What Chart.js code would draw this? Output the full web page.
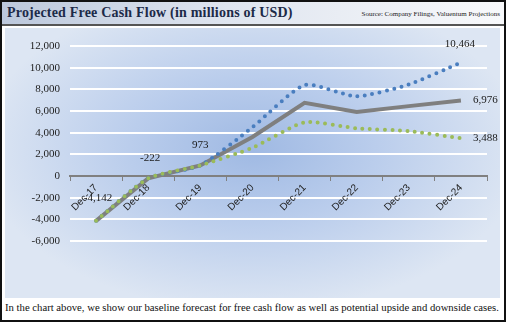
<!DOCTYPE html>
<html>
<head>
<meta charset="utf-8">
<script src="https://cdn.jsdelivr.net/npm/chart.js@4.4.0/dist/chart.umd.min.js"></script>
<style>
  body { margin: 0; background: #fff; }
  #frame {
    position: relative; width: 502px; height: 318px;
    border: 2px solid #111; background: #fff; overflow: hidden;
  }
  #titlebar {
    position: absolute; left: 0; top: 0; width: 502px; height: 22px;
    background: linear-gradient(to right, #bcc8dc 0%, #dfe5ef 45%, #f8f9fb 100%);
    border-bottom: 2px solid #555;
  }
  #title {
    position: absolute; left: 5px; top: 3px;
    font: bold 14px "Liberation Serif", serif; color: #1c2a48; letter-spacing: 0.2px;
  }
  #source {
    position: absolute; right: 4px; top: 8px;
    font: 7px "Liberation Serif", serif; color: #222;
  }
  #plot {
    position: absolute; left: 3px; top: 26px; width: 495px; height: 270px;
    background: radial-gradient(ellipse 55% 60% at 50% 45%, #9fb9e3 0%, #bacdec 45%, #dde6f3 100%);
  }
  #plot canvas { position: absolute; left: 0; top: 0; }
  #caption {
    position: absolute; left: 3px; top: 299px;
    font: 10.7px "Liberation Serif", serif; color: #111; white-space: nowrap;
  }
</style>
</head>
<body>
<div id="frame">
  <div id="titlebar">
    <div id="title">Projected Free Cash Flow (in millions of USD)</div>
    <div id="source">Source: Company Filings, Valuentum Projections</div>
  </div>
  <div id="plot"><canvas id="myChart" width="495" height="270"></canvas></div>
  <div id="caption">In the chart above, we show our baseline forecast for free cash flow as well as potential upside and downside cases.</div>
</div>
<script>
const categories = ['Dec-17', 'Dec-18', 'Dec-19', 'Dec-20', 'Dec-21', 'Dec-22', 'Dec-23', 'Dec-24'];
const baseCase = [-4142, -222, 973, 3600, 6750, 5900, 6450, 6976];
const upsideCase = [-4142, -222, 973, 4500, 8400, 7350, 8450, 10464];
const downsideCase = [-4142, -222, 973, 2600, 4950, 4400, 4150, 3488];
const yMin = -6000;
const yMax = 12000;
const yStep = 2000;

function fmt(v) {
  return v.toLocaleString('en-US');
}

// value labels: dataset index, point index, offset
const valueLabels = [
  { ds: 0, i: 0, dx: 2, dy: -23, align: 'center' },
  { ds: 0, i: 1, dx: 2, dy: -20, align: 'center' },
  { ds: 0, i: 2, dx: 0, dy: -20, align: 'center' },
  { ds: 1, i: 7, dx: -1, dy: -19, align: 'center' },
  { ds: 0, i: 7, dx: 12, dy: 0, align: 'left' },
  { ds: 2, i: 7, dx: 12, dy: 0, align: 'left' }
];

const labelPlugin = {
  id: 'valueLabels',
  afterDatasetsDraw(chart) {
    const ctx = chart.ctx;
    ctx.save();
    ctx.font = '11px "Liberation Serif", serif';
    ctx.fillStyle = '#1a1a1a';
    ctx.textBaseline = 'middle';
    valueLabels.forEach(l => {
      const pt = chart.getDatasetMeta(l.ds).data[l.i];
      const v = chart.data.datasets[l.ds].data[l.i];
      ctx.textAlign = l.align;
      ctx.fillText(fmt(v), pt.x + l.dx, pt.y + l.dy);
    });
    ctx.restore();
  }
};

const ctx = document.getElementById('myChart');
const myChart = new Chart(ctx, {
  type: 'line',
  data: {
    labels: categories,
    datasets: [
      {
        label: 'Base',
        data: baseCase,
        borderColor: '#7f7f7f',
        borderWidth: 4,
        tension: 0,
        pointRadius: 0,
        order: 2
      },
      {
        label: 'Upside',
        data: upsideCase,
        borderColor: '#4a7ebf',
        borderWidth: 4,
        borderDash: [0, 7.5],
        borderCapStyle: 'round',
        tension: 0.2,
        pointRadius: 0,
        order: 1
      },
      {
        label: 'Downside',
        data: downsideCase,
        borderColor: '#9bbb59',
        borderWidth: 4,
        borderDash: [0, 7.5],
        borderCapStyle: 'round',
        tension: 0.2,
        pointRadius: 0,
        order: 0
      }
    ]
  },
  options: {
    responsive: false,
    animation: false,
    layout: { padding: { left: 0, right: 13, top: 18, bottom: 57 } },
    plugins: { legend: { display: false }, tooltip: { enabled: false } },
    scales: {
      x: {
        type: 'category',
        position: { y: 0 },
        offset: true,
        border: { color: '#808080', width: 2 },
        grid: { offset: true, drawOnChartArea: false, drawTicks: true, tickLength: 4, color: '#808080', lineWidth: 1 },
        ticks: {
          minRotation: 45, maxRotation: 45, padding: 2,
          color: '#222',
          font: { family: '"Liberation Sans", sans-serif', size: 10 }
        }
      },
      y: {
        min: yMin,
        max: yMax,
        afterFit(scale) { scale.width = 65; },
        border: { display: false },
        grid: {
          drawTicks: false,
          lineWidth: 2,
          color: c => (c.tick && c.tick.value === 0) ? '#808080' : '#ffffff'
        },
        ticks: {
          stepSize: yStep,
          padding: 10,
          color: '#222',
          font: { family: '"Liberation Serif", serif', size: 11 },
          callback: v => fmt(v)
        }
      }
    }
  },
  plugins: [labelPlugin]
});
</script>
</body>
</html>
